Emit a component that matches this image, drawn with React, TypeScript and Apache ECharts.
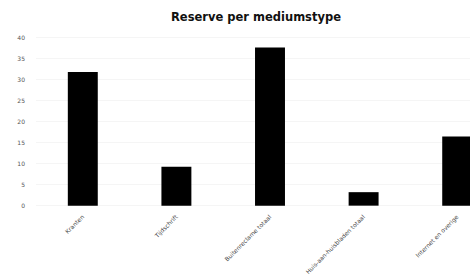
import React, { useEffect, useRef } from "react";
import * as echarts from "echarts";

const categories = [
  "Kranten",
  "Tijdschrift",
  "Buitenreclame totaal",
  "Huis-aan-huisbladen totaal",
  "Internet en overige",
];
const reserveValues = [31.7, 9.2, 37.5, 3.2, 16.4];
const yMin = 0;
const yMax = 40;
const yInterval = 5;

export default function App() {
  const ref = useRef<HTMLDivElement>(null);
  useEffect(() => {
    if (!ref.current) return;
    const chart = echarts.init(ref.current, undefined, { renderer: "svg" });
    chart.setOption({
      animation: false,
      backgroundColor: "#ffffff",
      title: {
        text: "Reserve per mediumstype",
        left: "center",
        top: 6,
        textStyle: { fontFamily: "DejaVu Sans", fontSize: 11.5, fontWeight: "bold", color: "#111" },
      },
      grid: { left: 36, right: 8, top: 37, bottom: 70 },
      xAxis: {
        type: "category",
        data: categories,
        axisLine: { show: false },
        axisTick: { show: false },
        axisLabel: {
          rotate: 45,
          fontSize: 6,
          color: "#444",
          fontFamily: "DejaVu Sans",
          margin: 10,
          interval: 0,
        },
      },
      yAxis: {
        type: "value",
        min: yMin,
        max: yMax,
        interval: yInterval,
        axisLine: { show: false },
        axisTick: { show: false },
        splitLine: { show: true, lineStyle: { color: "#f5f5f5", width: 1 } },
        axisLabel: { fontSize: 6, color: "#555", fontFamily: "DejaVu Sans", margin: 11 },
      },
      series: [
        {
          type: "bar",
          data: reserveValues,
          barWidth: "32%",
          itemStyle: { color: "#000000" },
        },
      ],
    });
    return () => chart.dispose();
  }, []);
  return (
    <div style={{ position: "fixed", left: 0, top: 0, width: 470, height: 277, overflow: "hidden", background: "#fff" }}>
      <div ref={ref} style={{ width: 512, height: 277 }} />
    </div>
  );
}
